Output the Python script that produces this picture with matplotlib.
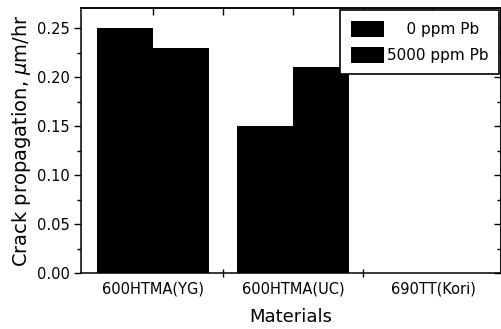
import matplotlib
matplotlib.use("Agg")
import matplotlib.pyplot as plt
import numpy as np
from matplotlib.ticker import MultipleLocator

materials = ["600HTMA(YG)", "600HTMA(UC)", "690TT(Kori)"]
pb0 = [0.25, 0.15, 0.0]
pb5000 = [0.23, 0.21, 0.0]
series_labels = ["0 ppm Pb", "5000 ppm Pb"]

plt.rcParams['font.family'] = ['DejaVu Sans']

W, H = 502, 329
fig = plt.figure(figsize=(W/100, H/100), dpi=100)
ax = fig.add_axes([81/W, 1-273.3/H, (500.7-81)/W, (273.3-8)/H])

x = np.arange(len(materials))
bw = 0.4
ax.bar(x - bw/2, pb0, width=bw, color='black', label="    " + series_labels[0])
ax.bar(x + bw/2, pb5000, width=bw, color='black', label=series_labels[1])

ax.set_xlim(-0.514, 2.484)
ax.set_ylim(0, 0.2707)

for s in ax.spines.values():
    s.set_linewidth(1.1)

ax.set_xticks(x)
ax.set_xticklabels(materials, fontsize=10.5)
ax.tick_params(axis='x', which='major', length=0, pad=6)
ax.set_xticks([0.5, 1.5], minor=True)
ax.tick_params(axis='x', which='minor', direction='inout', length=6, width=1)

ax.yaxis.set_major_locator(MultipleLocator(0.05))
ax.yaxis.set_minor_locator(MultipleLocator(0.025))
ax.set_yticks(np.arange(0, 0.26, 0.05))
ax.set_yticklabels([f"{v:.2f}" for v in np.arange(0, 0.26, 0.05)], fontsize=10.5)
ax.tick_params(axis='y', which='major', direction='out', length=5, width=1, pad=3)
ax.tick_params(axis='y', which='minor', direction='out', length=3, width=1)

top = ax.secondary_xaxis('top')
top.set_xticks([0, 0.5, 1, 1.5, 2])
top.set_xticklabels([])
top.tick_params(direction='in', length=5, width=1)
top.spines['top'].set_linewidth(1.1)

right = ax.secondary_yaxis('right')
right.yaxis.set_major_locator(MultipleLocator(0.05))
right.yaxis.set_minor_locator(MultipleLocator(0.025))
right.set_yticklabels([])
right.tick_params(which='major', direction='in', length=5, width=1)
right.tick_params(which='minor', direction='in', length=3, width=1)
right.spines['right'].set_linewidth(1.1)

ax.set_ylabel("Crack propagation, $\\mu$m/hr", fontsize=14, labelpad=3)
ax.set_xlabel("Materials", fontsize=13, labelpad=8)

leg = ax.legend(loc='upper right', bbox_to_anchor=(499/W, 1-10/H),
                bbox_transform=fig.transFigure, borderaxespad=0,
                fontsize=11, frameon=True, fancybox=False, edgecolor='black',
                framealpha=1, handlelength=2.2, handleheight=1.3,
                labelspacing=0.6, handletextpad=0.15, borderpad=0.7)
leg.get_frame().set_linewidth(1.2)

fig.savefig("out.png", dpi=100)
